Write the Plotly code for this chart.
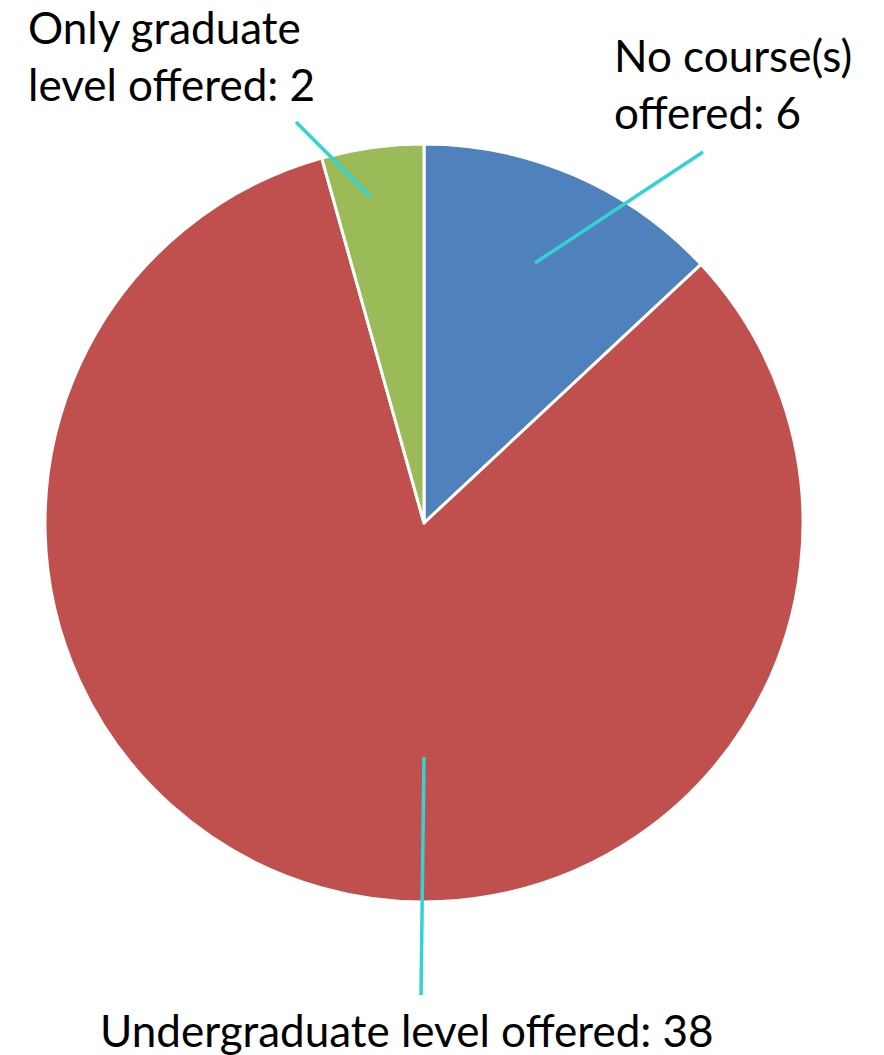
import plotly.graph_objects as go

categories = ["No course(s) offered", "Undergraduate level offered", "Only graduate level offered"]
values = [6, 38, 2]
colors = ["#4F81BD", "#C0504D", "#9BBB59"]
label_texts = ["No course(s)<br>offered: 6", "Undergraduate level offered: 38", "Only graduate<br>level offered: 2"]

W, H = 884, 1055
OFF = 8  # page body margin compensation
cx, cy, R = 424 - OFF, 523 - OFF, 379

def px(x):
    return x / W

def py(y):
    return 1 - y / H

fig = go.Figure(go.Pie(
    labels=categories,
    values=values,
    marker=dict(colors=colors, line=dict(color="white", width=3)),
    sort=False,
    direction="clockwise",
    rotation=0,
    textinfo="none",
    hoverinfo="label+value",
    showlegend=False,
    domain=dict(x=[px(cx - R), px(cx + R)], y=[py(cy + R), py(cy - R)]),
))

# leader lines (pixel endpoints, as seen on screen)
leaders = [
    ((535, 263), (703, 152)),
    ((424, 757), (421, 995)),
    ((371, 197), (296, 122)),
]
for (x0, y0), (x1, y1) in leaders:
    fig.add_shape(type="line", xref="paper", yref="paper",
                  x0=px(x0 - OFF), y0=py(y0 - OFF), x1=px(x1 - OFF), y1=py(y1 - OFF),
                  line=dict(color="#33D3D3", width=3.5))

font = dict(family="Lato, Open Sans, sans-serif", size=44, color="black")
label_pos = [
    (604, 76, "left", "middle"),
    (399, 1022, "center", "middle"),
    (18, 47, "left", "middle"),
]
for text, (x, y, xa, ya) in zip(label_texts, label_pos):
    fig.add_annotation(text=text, xref="paper", yref="paper", x=px(x), y=py(y),
                       xanchor=xa, yanchor=ya, showarrow=False, align="left", font=font)

fig.update_layout(width=W, height=H, margin=dict(l=0, r=0, t=0, b=0),
                  paper_bgcolor="white", plot_bgcolor="white")
fig.write_html("out.html")
